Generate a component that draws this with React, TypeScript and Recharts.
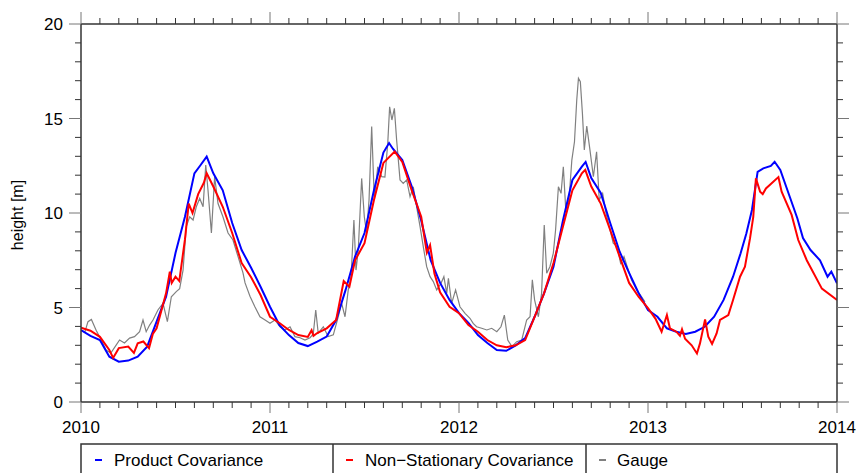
import { CartesianGrid, Line, LineChart, XAxis, YAxis } from "recharts"

// water level at the gauge vs. two covariance models, 2010–2014
const productYears = [
  2010.0, 2010.05, 2010.1, 2010.15, 2010.2, 2010.25, 2010.3, 2010.35, 2010.4, 2010.45,
  2010.5, 2010.55, 2010.6, 2010.63, 2010.665, 2010.7, 2010.75, 2010.8, 2010.85, 2010.9,
  2010.95, 2011.0, 2011.05, 2011.1, 2011.15, 2011.2, 2011.25, 2011.3, 2011.35, 2011.4,
  2011.45, 2011.5, 2011.55, 2011.6, 2011.63, 2011.65, 2011.7, 2011.75, 2011.8, 2011.85,
  2011.9, 2011.95, 2012.0, 2012.05, 2012.1, 2012.15, 2012.2, 2012.25, 2012.3, 2012.35,
  2012.4, 2012.45, 2012.5, 2012.55, 2012.6, 2012.65, 2012.67, 2012.7, 2012.75, 2012.8,
  2012.85, 2012.9, 2012.95, 2013.0, 2013.05, 2013.1, 2013.15, 2013.2, 2013.25, 2013.3,
  2013.35, 2013.4, 2013.45, 2013.49, 2013.52, 2013.55, 2013.58, 2013.61, 2013.65, 2013.67,
  2013.7, 2013.75, 2013.79, 2013.82, 2013.86, 2013.91, 2013.95, 2013.97, 2014.0,
]
const productHeights = [
  3.8, 3.5, 3.28, 2.4, 2.13, 2.19, 2.4, 2.93, 4.25, 5.57,
  7.88, 9.8, 12.1, 12.5, 12.98, 12.1, 11.2, 9.47, 8.04, 7.1,
  6.1, 5.04, 4.07, 3.54, 3.12, 2.96, 3.19, 3.46, 4.34, 5.93,
  7.69, 8.94, 11.2, 13.2, 13.7, 13.4, 12.8, 11.4, 9.6, 7.5,
  6.3, 5.4, 4.7, 4.18, 3.54, 3.12, 2.75, 2.71, 3.0, 3.38,
  4.51, 5.75, 7.16, 9.6, 11.75, 12.45, 12.7, 11.85, 11.06, 9.47,
  7.95, 6.83, 5.77, 4.87, 4.51, 3.9, 3.72, 3.6, 3.72, 3.98,
  4.51, 5.4, 6.63, 7.87, 8.9, 10.16, 12.18, 12.36, 12.49, 12.71,
  12.28, 10.86, 9.72, 8.67, 8.04, 7.5, 6.63, 6.9, 6.28,
]

const nonStatYears = [
  2010.0, 2010.05, 2010.1, 2010.15, 2010.17, 2010.2, 2010.25, 2010.28, 2010.3, 2010.33,
  2010.36, 2010.38, 2010.4, 2010.45, 2010.47, 2010.48, 2010.5, 2010.52, 2010.55, 2010.57,
  2010.59, 2010.62, 2010.65, 2010.665, 2010.7, 2010.75, 2010.8, 2010.85, 2010.9, 2010.95,
  2011.0, 2011.05, 2011.1, 2011.15, 2011.2, 2011.22, 2011.23, 2011.25, 2011.3, 2011.35,
  2011.39, 2011.42, 2011.45, 2011.5, 2011.55, 2011.6, 2011.66, 2011.7, 2011.75, 2011.8,
  2011.83, 2011.847, 2011.87, 2011.9, 2011.95, 2012.0, 2012.05, 2012.1, 2012.15, 2012.2,
  2012.25, 2012.3, 2012.35, 2012.4, 2012.45, 2012.5, 2012.55, 2012.6, 2012.65, 2012.668,
  2012.7, 2012.75, 2012.8, 2012.85, 2012.9, 2012.95, 2013.0, 2013.04, 2013.072, 2013.1,
  2013.116, 2013.15, 2013.169, 2013.18, 2013.196, 2013.231, 2013.259, 2013.275, 2013.302, 2013.319,
  2013.339, 2013.363, 2013.381, 2013.425, 2013.45, 2013.487, 2013.513, 2013.54, 2013.557, 2013.571,
  2013.593, 2013.607, 2013.624, 2013.69, 2013.707, 2013.76, 2013.795, 2013.84, 2013.92, 2014.0,
]
const nonStatHeights = [
  3.93, 3.77, 3.45, 2.75, 2.33, 2.85, 2.93, 2.6, 3.1, 3.2,
  2.85, 3.6, 3.9, 5.75, 6.9, 6.3, 6.63, 6.4, 8.6, 10.5,
  10.0, 11.0, 11.6, 12.1, 11.4, 10.33, 8.94, 7.35, 6.6, 5.66,
  4.51, 4.18, 3.81, 3.54, 3.44, 3.8, 3.5, 3.65, 3.9, 4.34,
  6.4, 6.1, 7.5, 8.4, 10.69, 12.65, 13.25, 12.7, 11.2, 9.8,
  7.9, 8.3, 6.8, 5.8, 5.04, 4.7, 4.07, 3.72, 3.28, 3.0,
  2.9, 3.0, 3.28, 4.51, 5.75, 7.35, 9.28, 11.2, 12.1, 12.28,
  11.4, 10.5, 9.1, 7.69, 6.3, 5.57, 4.97, 4.4, 3.72, 4.6,
  3.9, 3.72, 3.5, 3.85, 3.35, 3.0, 2.57, 3.1, 4.37, 3.46,
  3.07, 3.63, 4.34, 4.6, 5.4, 6.63, 7.16, 8.67, 9.8, 11.83,
  11.13, 11.0, 11.3, 11.9, 11.13, 9.9, 8.57, 7.5, 6.0, 5.4,
]

const gaugeYears = [
  2010.0, 2010.02, 2010.037, 2010.055, 2010.08, 2010.107, 2010.132, 2010.158, 2010.185, 2010.204,
  2010.23, 2010.257, 2010.283, 2010.31, 2010.328, 2010.345, 2010.363, 2010.381, 2010.407, 2010.434,
  2010.457, 2010.478, 2010.504, 2010.522, 2010.54, 2010.557, 2010.575, 2010.593, 2010.61, 2010.628,
  2010.646, 2010.66, 2010.672, 2010.69, 2010.707, 2010.725, 2010.751, 2010.778, 2010.804, 2010.831,
  2010.857, 2010.868, 2010.894, 2010.92, 2010.947, 2010.974, 2011.0, 2011.026, 2011.053, 2011.079,
  2011.106, 2011.132, 2011.159, 2011.185, 2011.212, 2011.229, 2011.242, 2011.255, 2011.282, 2011.308,
  2011.335, 2011.361, 2011.379, 2011.397, 2011.414, 2011.429, 2011.444, 2011.455, 2011.467, 2011.485,
  2011.499, 2011.511, 2011.524, 2011.538, 2011.552, 2011.57, 2011.591, 2011.608, 2011.623, 2011.633,
  2011.645, 2011.658, 2011.67, 2011.688, 2011.705, 2011.723, 2011.741, 2011.758, 2011.785, 2011.794,
  2011.811, 2011.829, 2011.847, 2011.864, 2011.882, 2011.905, 2011.92, 2011.935, 2011.944, 2011.961,
  2011.982, 2012.005, 2012.032, 2012.058, 2012.075, 2012.093, 2012.12, 2012.147, 2012.173, 2012.2,
  2012.222, 2012.24, 2012.258, 2012.28, 2012.305, 2012.332, 2012.358, 2012.376, 2012.388, 2012.4,
  2012.42, 2012.437, 2012.451, 2012.464, 2012.481, 2012.499, 2012.511, 2012.526, 2012.54, 2012.552,
  2012.565, 2012.582, 2012.597, 2012.611, 2012.623, 2012.632, 2012.642, 2012.653, 2012.663, 2012.676,
  2012.693, 2012.711, 2012.728, 2012.742, 2012.76, 2012.778, 2012.795, 2012.816, 2012.837, 2012.855,
  2012.873, 2012.89, 2012.913, 2012.94, 2012.966, 2012.984,
]
const gaugeHeights = [
  3.8, 3.7, 4.25, 4.37, 3.8, 3.28, 2.75, 2.59, 3.0, 3.28,
  3.12, 3.38, 3.46, 3.72, 4.34, 3.72, 4.07, 4.34, 4.87, 5.22,
  4.25, 5.57, 5.84, 6.0, 6.98, 9.28, 9.8, 9.63, 10.33, 10.77,
  10.33, 12.54, 11.2, 8.94, 11.92, 10.5, 9.8, 8.94, 8.57, 7.69,
  6.83, 6.3, 5.6, 5.04, 4.51, 4.34, 4.17, 4.34, 3.98, 3.81,
  3.98, 3.46, 3.4, 3.28, 3.4, 3.6, 4.87, 3.65, 3.98, 3.46,
  3.55, 4.51, 5.22, 4.51, 5.93, 6.63, 9.63, 6.98, 8.04, 11.83,
  9.8, 8.94, 10.69, 14.57, 10.69, 12.45, 11.92, 11.9, 13.69, 15.62,
  14.92, 15.54, 13.86, 11.75, 11.57, 11.75, 10.86, 11.39, 9.8, 9.28,
  8.22, 7.16, 6.63, 6.37, 5.93, 6.28, 6.63, 5.75, 6.55, 5.22,
  5.93, 5.04, 4.69, 4.43, 4.16, 3.98, 3.9, 3.81, 3.9, 3.72,
  3.98, 4.6, 3.28, 2.93, 3.19, 3.28, 4.34, 4.51, 6.46, 5.4,
  4.51, 5.75, 9.37, 6.81, 7.16, 7.87, 9.1, 11.39, 11.04, 12.45,
  10.16, 10.69, 12.8, 13.77, 15.98, 17.13, 16.95, 15.27, 13.33, 14.6,
  13.33, 11.92, 13.24, 10.69, 11.04, 9.98, 9.28, 8.4, 8.22, 7.34,
  7.69, 7.16, 6.46, 5.93, 5.57, 5.3,
]

const yearTicks = [2010, 2011, 2012, 2013, 2014]
const heightTicks = [0, 5, 10, 15, 20]

const toPoints = (ts: number[], vs: number[]) => ts.map((t, i) => ({ t, v: vs[i] }))
const product = toPoints(productYears, productHeights)
const nonStat = toPoints(nonStatYears, nonStatHeights)
const gauge = toPoints(gaugeYears, gaugeHeights)

// minor ticks: every 0.1 year, every 1 m
const xMinor = Array.from({ length: 41 }, (_, i) => Math.round((2010 + i / 10) * 10) / 10)
const yMinor = Array.from({ length: 21 }, (_, i) => i)

const FONT = "'Liberation Sans', Arial, Helvetica, sans-serif"
const MAJOR = "#777"
const MINOR = "#333"

function isMajorYear(v: number) {
  return yearTicks.includes(v)
}
function isMajorHeight(v: number) {
  return heightTicks.includes(v)
}

function BottomTick({ x, y, payload }: any) {
  const major = isMajorYear(payload.value)
  return (
    <g>
      <line x1={x} y1={y} x2={x} y2={y + (major ? 11 : 6)} stroke={major ? MAJOR : MINOR} />
      {major && (
        <text x={x} y={y + 31} textAnchor="middle" fontSize={17} fontFamily={FONT} fill="#000">
          {payload.value}
        </text>
      )}
    </g>
  )
}

function TopTick({ x, y, payload }: any) {
  const major = isMajorYear(payload.value)
  return <line x1={x} y1={y} x2={x} y2={y - (major ? 12 : 6)} stroke={major ? MAJOR : MINOR} />
}

function LeftTick({ x, y, payload }: any) {
  const major = isMajorHeight(payload.value)
  return (
    <g>
      <line x1={x} y1={y} x2={x - (major ? 12 : 6)} y2={y} stroke={major ? MAJOR : MINOR} />
      {major && (
        <text x={x - 18} y={y + 6} textAnchor="end" fontSize={17} fontFamily={FONT} fill="#000">
          {payload.value}
        </text>
      )}
    </g>
  )
}

function RightTick({ x, y, payload }: any) {
  const major = isMajorHeight(payload.value)
  return <line x1={x} y1={y} x2={x + (major ? 12 : 6)} y2={y} stroke={major ? MAJOR : MINOR} />
}

const legendItems = [
  { label: "Product Covariance", color: "#0000ff", mark: 95, text: 114 },
  { label: "Non\u2212Stationary Covariance", color: "#ff0000", mark: 346, text: 365 },
  { label: "Gauge", color: "#808080", mark: 599, text: 617 },
]

export default function App() {
  const frame = { stroke: "#333", strokeWidth: 1.5 }
  return (
    <div style={{ position: "relative", width: 856, height: 473, overflow: "hidden", background: "#fff" }}>
      <style>{"body{margin:0}"}</style>
      <LineChart
        width={856}
        height={473}
        margin={{ top: 10, right: 9, bottom: 41, left: 0 }}
      >
        <CartesianGrid stroke="none" />
        <XAxis
          dataKey="t"
          type="number"
          domain={[2010, 2014]}
          allowDataOverflow
          ticks={xMinor}
          interval={0}
          tickSize={0}
          tickMargin={0}
          tick={<BottomTick />}
          tickLine={false}
          axisLine={frame}
          height={30}
        />
        <XAxis
          xAxisId="top"
          orientation="top"
          dataKey="t"
          type="number"
          domain={[2010, 2014]}
          allowDataOverflow
          ticks={xMinor}
          interval={0}
          tickSize={0}
          tickMargin={0}
          tick={<TopTick />}
          tickLine={false}
          axisLine={frame}
          height={14}
        />
        <YAxis
          type="number"
          domain={[0, 20]}
          allowDataOverflow
          ticks={yMinor}
          interval={0}
          tickSize={0}
          tickMargin={0}
          tick={<LeftTick />}
          tickLine={false}
          axisLine={frame}
          width={81}
        />
        <YAxis
          yAxisId="right"
          orientation="right"
          type="number"
          domain={[0, 20]}
          allowDataOverflow
          ticks={yMinor}
          interval={0}
          tickSize={0}
          tickMargin={0}
          tick={<RightTick />}
          tickLine={false}
          axisLine={frame}
          width={10}
        />
        <Line
          data={gauge}
          dataKey="v"
          type="linear"
          stroke="#808080"
          strokeWidth={1.2}
          dot={false}
          isAnimationActive={false}
        />
        <Line
          data={product}
          dataKey="v"
          type="linear"
          stroke="#0000ff"
          strokeWidth={2}
          dot={false}
          isAnimationActive={false}
        />
        <Line
          data={nonStat}
          dataKey="v"
          type="linear"
          stroke="#ff0000"
          strokeWidth={2}
          dot={false}
          isAnimationActive={false}
        />
      </LineChart>
      <svg
        width={856}
        height={473}
        style={{ position: "absolute", left: 0, top: 0, pointerEvents: "none" }}
      >
        <text
          transform="translate(23,215) rotate(-90)"
          textAnchor="middle"
          fontSize={16}
          fontFamily={FONT}
          fill="#000"
        >
          height [m]
        </text>
        <rect x={81} y={444} width={756} height={60} fill="none" stroke="#333" strokeWidth={1.5} />
        <line x1={333} y1={444} x2={333} y2={473} stroke="#333" strokeWidth={1.5} />
        <line x1={586} y1={444} x2={586} y2={473} stroke="#333" strokeWidth={1.5} />
        {legendItems.map((it) => (
          <g key={it.label}>
            <line x1={it.mark} y1={460} x2={it.mark + 7} y2={460} stroke={it.color} strokeWidth={2} />
            <text x={it.text} y={466} fontSize={17} fontFamily={FONT} fill="#000">
              {it.label}
            </text>
          </g>
        ))}
      </svg>
    </div>
  )
}
